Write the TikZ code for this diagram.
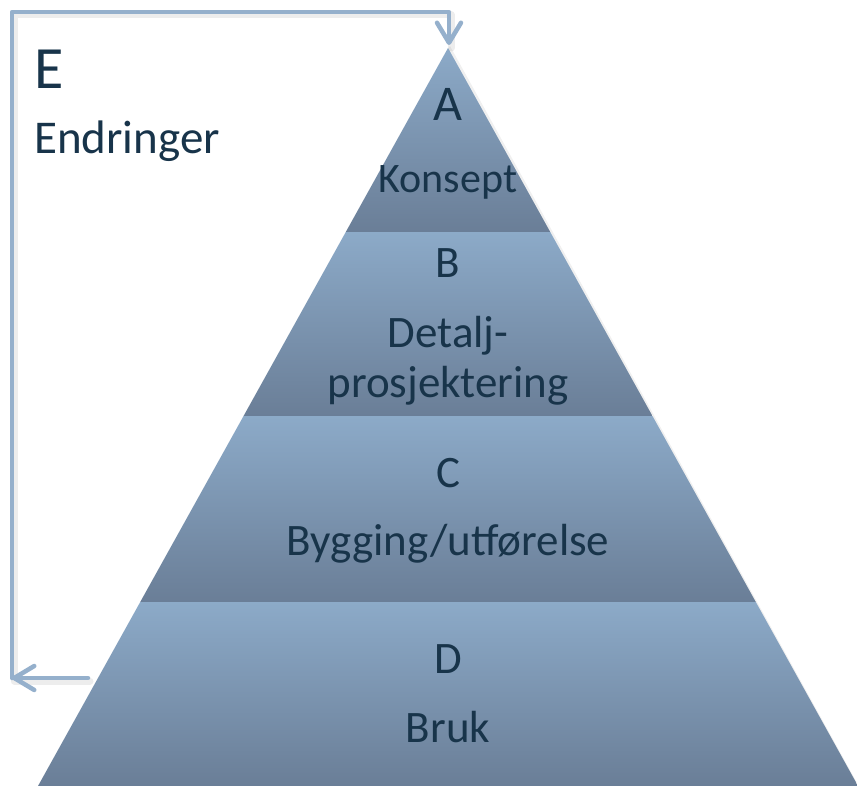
\documentclass[tikz,border=0pt]{standalone}
\usepackage{fontspec}
\setmainfont{Carlito}
\usetikzlibrary{arrows.meta}
\definecolor{txt}{RGB}{24,52,74}
\definecolor{bandtop}{RGB}{140,170,200}
\definecolor{bandbot}{RGB}{106,126,151}
\definecolor{arrowc}{RGB}{149,176,204}
\tikzset{
  band/.style={top color=bandtop, bottom color=bandbot, draw=none},
  lbl/.style={text=txt, anchor=base, inner sep=0pt, font=\fontsize{45bp}{54bp}\selectfont},
  conn/.style={draw=arrowc, line width=4.5bp, line cap=round, line join=round},
  shadowline/.style={draw=black, opacity=0.07, line width=7bp, line cap=round, line join=round},
  barb/.style={-{Straight Barb[length=20bp,width=24bp,round]}}
}
\begin{document}
\begin{tikzpicture}[x=1bp,y=-1bp]
\useasboundingbox (0,0) rectangle (857,786);
\fill[white] (0,0) rectangle (857,786);
% pyramid geometry: apex (448,48), base y=786 from 37 to 857
\def\apx{448}
% shadow of pyramid
\fill[black,opacity=0.06] (450,46) -- (861,790) -- (39,790) -- cycle;
% bands
\foreach \ya/\yb in {48/232,232/416,416/602,602/786}{
  \pgfmathsetmacro{\wa}{0.55556*(\ya-48)}
  \pgfmathsetmacro{\wb}{0.55556*(\yb-48)}
  \path[band] ({\apx-\wa},\ya) -- ({\apx+\wa},\ya) -- ({\apx+\wb},\yb) -- ({\apx-\wb},\yb) -- cycle;
  \draw[draw=bandbot!85!black,line width=1bp,opacity=0.5] ({\apx-\wb},\yb) -- ({\apx+\wb},\yb);
}
% connector
\coordinate (s) at (88,678);
\coordinate (c) at (12,678);
\coordinate (tl) at (12,12);
\coordinate (tr) at (449,12);
\coordinate (apex) at (449,45);
\path[shadowline] ([shift={(2,3)}]s) -- ([shift={(2,3)}]c) -- ([shift={(2,3)}]tl) -- ([shift={(2,3)}]tr) -- ([shift={(2,3)}]apex);
\path[conn,barb] (s) -- (c);
\path[conn,barb] (c) -- (tl) -- (tr) -- (apex);
% labels
\node[lbl, anchor=base west, font=\fontsize{60bp}{70bp}\selectfont] (e) at (34,88) {E};
\node[lbl, anchor=base west, font=\fontsize{47bp}{56bp}\selectfont] (endr) at (34,153) {Endringer};
\node[lbl, font=\fontsize{50bp}{60bp}\selectfont] (a) at (448,120) {A};
\node[lbl, font=\fontsize{42bp}{50bp}\selectfont] (konsept) at (448,192) {Konsept};
\node[lbl] (b) at (448,277) {B};
\node[lbl] (detalj) at (448,347) {Detalj-};
\node[lbl] (prosj) at (448,397) {prosjektering};
\node[lbl] (cc) at (448,487) {C};
\node[lbl] (bygg) at (448,555) {Bygging/utførelse};
\node[lbl] (d) at (448,673) {D};
\node[lbl] (bruk) at (448,742) {Bruk};
\end{tikzpicture}
\end{document}
